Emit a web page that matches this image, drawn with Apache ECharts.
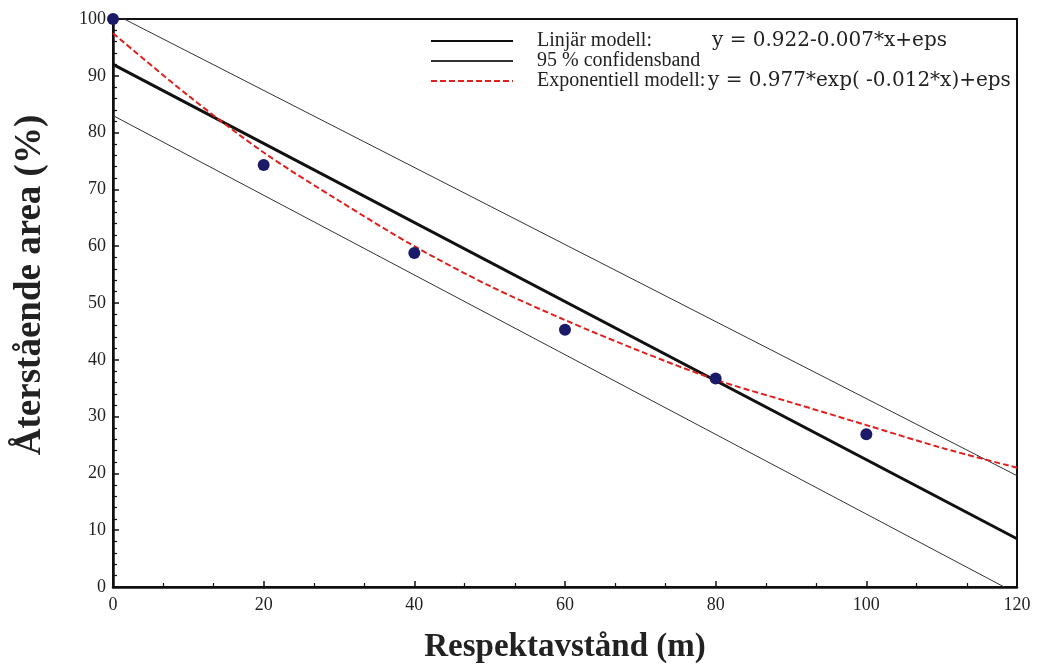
<!DOCTYPE html>
<html>
<head>
<meta charset="utf-8">
<script src="https://cdn.jsdelivr.net/npm/echarts@6/dist/echarts.min.js"></script>
<style>
html, body { margin: 0; padding: 0; background: #fff; }
#chart { width: 1038px; height: 669px; }
</style>
</head>
<body>
<div id="chart"></div>
<script>
// observed points (x in m, y in %)
var obsX = [0, 20, 40, 60, 80, 100];
var obsY = [100, 74.3, 58.8, 45.3, 36.7, 26.9];

// linear model, read at its ends
var linX = [0, 120];
var linY = [92, 8.5];

// 95 % band
var upperX = [0, 120];
var upperY = [101, 19.6];
var lowerX = [0, 118.3];
var lowerY = [83, 0];

// exponential model
var expX = [0, 10, 20, 30, 40, 50, 60, 70, 80, 90, 100, 110, 120];
var expY = [97.5, 86.5, 76.5, 68, 60, 53, 47, 41.5, 36.5, 32.5, 28.5, 24.5, 21];

var legendNames = ['Linjär modell:', '95 % confidensband', 'Exponentiell modell:'];
var legendFormulas = ['y = 0.922-0.007*x+eps', '', 'y = 0.977*exp( -0.012*x)+eps'];

function pairs(xs, ys) {
  return xs.map(function (x, i) { return [x, ys[i]]; });
}

var serif = "'Liberation Serif', 'DejaVu Serif', serif";
var wide = "'DejaVu Serif', serif";
var chart = echarts.init(document.getElementById('chart'));

var option = {
  backgroundColor: '#fff',
  animation: false,
  grid: {
    left: 113, right: 21, top: 19, bottom: 82,
    show: true, borderColor: '#111', borderWidth: 2
  },
  legend: {
    data: legendNames,
    orient: 'vertical',
    left: 425, top: 26,
    itemWidth: 82, itemHeight: 14, itemGap: 0,
    selectedMode: false,
    itemStyle: { opacity: 0 },
    formatter: function (name) {
      var i = legendNames.indexOf(name);
      if (i === 0) return '{a|' + name + '}{f|' + legendFormulas[i] + '}';
      if (i === 2) return '{c|' + name + '}{f|' + legendFormulas[i] + '}';
      return '{b|' + name + '}';
    },
    textStyle: {
      fontFamily: serif, fontSize: 20, color: '#222',
      rich: {
        a: { fontFamily: serif, fontSize: 20, color: '#222', width: 175, padding: [0, 0, 0, 19], lineHeight: 16 },
        b: { fontFamily: serif, fontSize: 20, color: '#222', padding: [0, 0, 0, 19], lineHeight: 16 },
        c: { fontFamily: serif, fontSize: 20, color: '#222', width: 171, padding: [0, 0, 0, 19], lineHeight: 16 },
        f: { fontFamily: wide, fontSize: 20, color: '#222', lineHeight: 16 }
      }
    }
  },
  xAxis: {
    type: 'value',
    min: 0, max: 120, interval: 20,
    name: 'Respektavstånd (m)',
    nameLocation: 'middle',
    nameGap: 44,
    nameTextStyle: { fontFamily: serif, fontSize: 33, fontWeight: 'bold', color: '#222' },
    axisLine: { onZero: false, lineStyle: { color: '#111', width: 2.5 } },
    axisTick: { inside: true, length: 6, lineStyle: { color: '#111', width: 1.5 } },
    minorTick: { show: true, splitNumber: 3, length: 4, lineStyle: { color: '#111', width: 1.2 } },
    axisLabel: { fontFamily: serif, fontSize: 18, color: '#222', margin: 9 },
    splitLine: { show: false }
  },
  yAxis: {
    type: 'value',
    min: 0, max: 100, interval: 10,
    name: 'Återstående area (%)',
    nameLocation: 'middle',
    nameRotate: 90,
    nameGap: 64,
    nameTextStyle: {
      fontFamily: serif, fontSize: 37, fontWeight: 'bold', color: '#222',
      padding: [0, 0, 0, 36]
    },
    axisLine: { onZero: false, lineStyle: { color: '#111', width: 2.5 } },
    axisTick: { inside: true, length: 6, lineStyle: { color: '#111', width: 1.5 } },
    minorTick: { show: true, splitNumber: 5, length: 4, lineStyle: { color: '#111', width: 1.2 } },
    axisLabel: { fontFamily: serif, fontSize: 18, color: '#222', margin: 7 },
    splitLine: { show: false }
  },
  series: [
    {
      name: legendNames[0], type: 'line', data: pairs(linX, linY),
      symbol: 'none', itemStyle: { color: '#111' },
      lineStyle: { color: '#111', width: 3 }, z: 3
    },
    {
      name: legendNames[1], type: 'line', data: pairs(upperX, upperY),
      symbol: 'none', itemStyle: { color: '#333' },
      lineStyle: { color: '#333', width: 1 }, z: 2
    },
    {
      name: legendNames[1], type: 'line', data: pairs(lowerX, lowerY),
      symbol: 'none', itemStyle: { color: '#333' },
      lineStyle: { color: '#333', width: 1 }, z: 2
    },
    {
      name: legendNames[2], type: 'line', data: pairs(expX, expY),
      smooth: 0.3, symbol: 'none', itemStyle: { color: '#e0201c' },
      lineStyle: { color: '#e0201c', width: 2, type: [6, 3] }, z: 4
    },
    {
      name: 'data', type: 'scatter', data: pairs(obsX, obsY),
      symbolSize: 12, clip: false,
      itemStyle: { color: '#1a1a68', opacity: 1 }, z: 5
    }
  ]
};

chart.setOption(option);
window.onresize = function () { chart.resize(); };
</script>
</body>
</html>
